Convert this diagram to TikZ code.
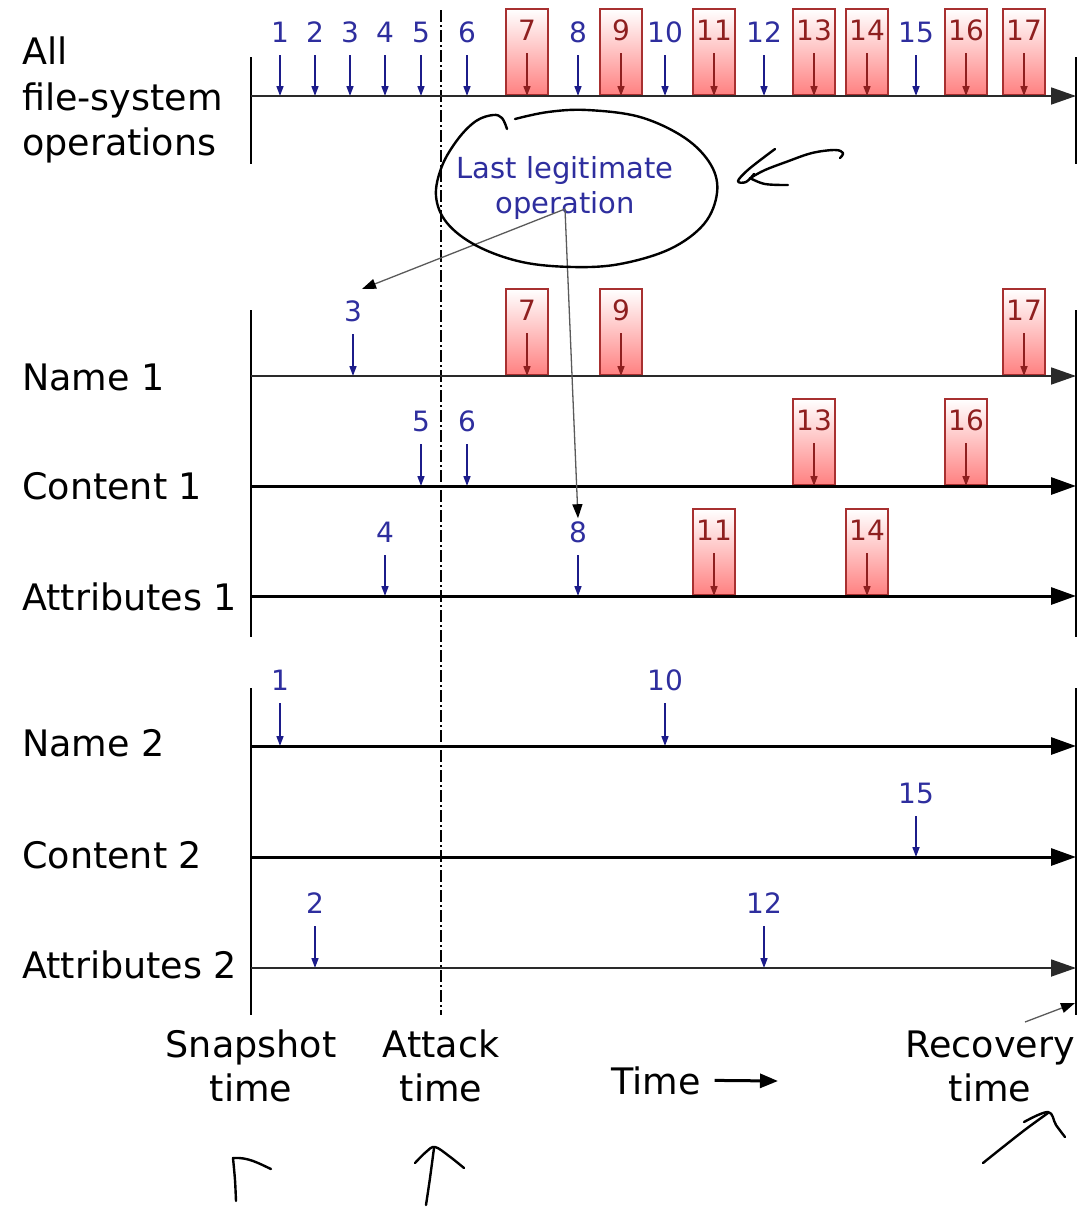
\documentclass[tikz,border=0pt]{standalone}
\usepackage{fontspec}
\setmainfont{DejaVu Sans}
\usetikzlibrary{arrows.meta}

\definecolor{opblue}{HTML}{1C1C8A}
\definecolor{opbluetxt}{HTML}{2E2E9E}
\definecolor{badred}{HTML}{8E1F1F}
\definecolor{badedge}{HTML}{A83030}
\definecolor{badfill}{HTML}{FF8080}
\definecolor{axisgray}{HTML}{2A2A2A}
\definecolor{pointgray}{HTML}{5A5A5A}

\tikzset{
  lbl/.style={font=\fontsize{36.5}{44}\selectfont, inner sep=0pt},
  num/.style={font=\fontsize{28}{33}\selectfont, text=opbluetxt, inner sep=0pt},
  badnum/.style={num, text=badred},
  legittext/.style={font=\fontsize{29}{35}\selectfont, text=opbluetxt, inner sep=0pt},
  evarrow/.style={draw=opblue, line width=1.6pt, -{Triangle[length=10pt,width=7pt]}},
  badarrow/.style={evarrow, draw=badred},
  badbox/.style={draw=badedge, line width=1.6pt, top color=white, middle color=white,
    bottom color=badfill, minimum width=42pt, minimum height=86pt, inner sep=0pt},
  thinaxis/.style={draw=axisgray, line width=1.8pt, -{Triangle[length=25pt,width=17pt]}},
  thickaxis/.style={draw=black, line width=3pt, -{Triangle[length=25pt,width=17pt]}},
  bound/.style={draw=black, line width=1.8pt},
  attackline/.style={draw=black, line width=1.3pt, dash pattern=on 12pt off 3pt on 2pt off 3pt},
  pointer/.style={draw=pointgray, line width=1.3pt, -{Triangle[length=14pt,width=10pt,color=black]}},
  timearrow/.style={draw=black, line width=3pt, -{Triangle[length=18pt,width=14pt]}},
  ink/.style={draw=black, line width=2.4pt, line cap=round, line join=round},
}

% legitimate operation: number with a blue arrow down to the axis
\newcommand\goodop[5]{% name, x, label y, axis y, text
  \node[num] (#1) at (#2,#3) {#5};
  \coordinate (#1-tip) at (#2,#4);
  \draw[evarrow] ([yshift=-23pt]#1.center) -- (#1-tip);
}
% malicious operation: shaded red box standing on the axis
\newcommand\badop[4]{% name, x, axis y, text
  \node[badbox, anchor=south] (#1) at (#2,#3) {};
  \node[badnum] (#1-n) at ([yshift=-22pt]#1.north) {#4};
  \draw[badarrow] ([yshift=-45pt]#1.north) -- (#1.south);
}

\begin{document}
\begin{tikzpicture}[x=1pt, y=-1pt]
\useasboundingbox (0,0) rectangle (1083,1208);

% attack time marker
\coordinate (atk-top) at (441,10);
\coordinate (atk-bot) at (441,1015);
\draw[attackline] (atk-top) -- (atk-bot);

% snapshot and recovery bounds
\foreach \i/\ya/\yb in {1/57/164, 2/310/637, 3/688/1015} {
  \coordinate (lb\i a) at (251,\ya);
  \coordinate (lb\i b) at (251,\yb);
  \coordinate (rb\i a) at (1076,\ya);
  \coordinate (rb\i b) at (1076,\yb);
  \draw[bound] (lb\i a) -- (lb\i b);
  \draw[bound] (rb\i a) -- (rb\i b);
}

% ---- all file-system operations ----
\node[lbl, anchor=base west] (all-1) at (22,64) {All};
\node[lbl, anchor=base west] (all-2) at (22,110) {file-system};
\node[lbl, anchor=base west] (all-3) at (22,155) {operations};
\foreach \n/\x in {1/280, 2/315, 3/350, 4/385, 5/421, 6/467, 8/578, 10/665, 12/764, 15/916}
  {\goodop{top-\n}{\x}{32}{96}{\n}}
\foreach \n/\x in {7/527, 9/621, 11/714, 13/814, 14/867, 16/966, 17/1024}
  {\badop{top-\n}{\x}{96}{\n}}
\coordinate (ax0a) at (251,96); \coordinate (ax0b) at (1076,96);
\draw[thinaxis] (ax0a) -- (ax0b);

% ---- Name 1 ----
\node[lbl, anchor=base west] (name1) at (22,390) {Name 1};
\goodop{nm1-3}{353}{311}{376}{3}
\badop{nm1-7}{527}{376}{7}
\badop{nm1-9}{621}{376}{9}
\badop{nm1-17}{1024}{376}{17}
\coordinate (ax1a) at (251,376); \coordinate (ax1b) at (1076,376);
\draw[thinaxis] (ax1a) -- (ax1b);

% ---- Content 1 ----
\node[lbl, anchor=base west] (content1) at (22,499) {Content 1};
\goodop{ct1-5}{421}{421}{486}{5}
\goodop{ct1-6}{467}{421}{486}{6}
\badop{ct1-13}{814}{486}{13}
\badop{ct1-16}{966}{486}{16}
\coordinate (ax2a) at (251,486); \coordinate (ax2b) at (1076,486);
\draw[thickaxis] (ax2a) -- (ax2b);

% ---- Attributes 1 ----
\node[lbl, anchor=base west] (attr1) at (22,610) {Attributes 1};
\goodop{at1-4}{385}{532}{596}{4}
\goodop{at1-8}{578}{532}{596}{8}
\badop{at1-11}{714}{596}{11}
\badop{at1-14}{867}{596}{14}
\coordinate (ax3a) at (251,596); \coordinate (ax3b) at (1076,596);
\draw[thickaxis] (ax3a) -- (ax3b);

% ---- Name 2 ----
\node[lbl, anchor=base west] (name2) at (22,756) {Name 2};
\goodop{nm2-1}{280}{680}{746}{1}
\goodop{nm2-10}{665}{680}{746}{10}
\coordinate (ax4a) at (251,746); \coordinate (ax4b) at (1076,746);
\draw[thickaxis] (ax4a) -- (ax4b);

% ---- Content 2 ----
\node[lbl, anchor=base west] (content2) at (22,868) {Content 2};
\goodop{ct2-15}{916}{793}{857}{15}
\coordinate (ax5a) at (251,857); \coordinate (ax5b) at (1076,857);
\draw[thickaxis] (ax5a) -- (ax5b);

% ---- Attributes 2 ----
\node[lbl, anchor=base west] (attr2) at (22,978) {Attributes 2};
\goodop{at2-2}{315}{903}{968}{2}
\goodop{at2-12}{764}{903}{968}{12}
\coordinate (ax6a) at (251,968); \coordinate (ax6b) at (1076,968);
\draw[thinaxis] (ax6a) -- (ax6b);

% ---- last legitimate operation ----
\node[legittext, anchor=base] (legitA) at (565,178) {Last legitimate};
\node[legittext, anchor=base] (legitB) at (565,213) {operation};
\coordinate (legit-src) at ([yshift=4pt]legitB.base);
\coordinate (to-three) at (362,289);
\draw[pointer] (legit-src) -- (to-three);
\draw[pointer] (legit-src) -- ([yshift=3pt]at1-8.north);

% ---- time captions ----
\node[lbl, anchor=base] (snap1) at (251,1057) {Snapshot};
\node[lbl, anchor=base] (snap2) at (251,1101) {time};
\node[lbl, anchor=base] (atk1) at (441,1057) {Attack};
\node[lbl, anchor=base] (atk2) at (441,1101) {time};
\node[lbl, anchor=base] (rec1) at (990,1057) {Recovery};
\node[lbl, anchor=base] (rec2) at (990,1101) {time};
\coordinate (rec-from) at (1025,1022);
\coordinate (rec-to) at (1075,1003);
\draw[pointer] (rec-from) -- (rec-to);
\node[lbl, anchor=base west] (timelbl) at (611,1094) {Time};
\coordinate (time-end) at (778,1081);
\draw[timearrow] ([xshift=14pt]timelbl.east) -- (time-end);

% ---- pen annotations ----
% loop round the caption
\draw[ink] plot[smooth, tension=0.6] coordinates {
  (515,119) (548,112) (587,110) (640,117) (685,138) (711,165) (717,193)
  (704,224) (670,249) (620,264) (573,267) (522,262) (477,246) (447,223)
  (436,196) (442,166) (458,139) (476,121) (493,115) (502,118) (507,129)};
% arrow pointing at the loop
\draw[ink] plot[smooth, tension=0.6] coordinates {
  (840,158) (843,153) (835,150) (812,153) (786,162) (765,170) (752,177)};
\draw[ink] plot[smooth, tension=0.6] coordinates {
  (775,149) (749,169) (738,181) (746,182) (754,174)};
\draw[ink] plot[smooth, tension=0.6] coordinates {
  (750,178) (765,184) (788,185)};
% snapshot mark
\draw[ink] plot[smooth, tension=0.5] coordinates {(236,1201) (235,1180) (233,1158)}
  -- (233,1158) .. controls (248,1157) and (258,1163) .. (271,1169);
% attack mark
\draw[ink] plot[smooth, tension=0.6] coordinates {(426,1205) (430,1178) (434,1148)};
\draw[ink] plot[smooth, tension=0.6] coordinates {(415,1163) (426,1152) (435,1147) (449,1156) (464,1168)};
% recovery mark
\draw[ink] plot[smooth, tension=0.6] coordinates {(983,1163) (1003,1147) (1026,1129) (1048,1113)};
\draw[ink] plot[smooth, tension=0.6] coordinates {(1024,1122) (1048,1112) (1056,1125) (1065,1137)};
\end{tikzpicture}
\end{document}
